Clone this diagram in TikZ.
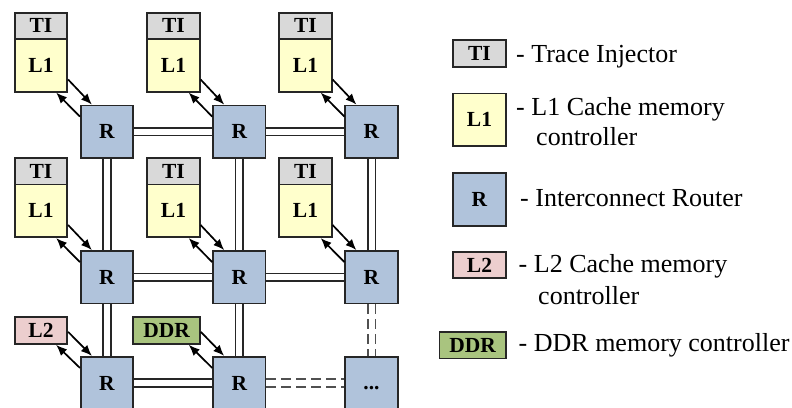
\documentclass[tikz,border=0pt]{standalone}
\usepackage{fontspec}
\setmainfont{Liberation Serif}
\usetikzlibrary{arrows.meta}
\definecolor{tigray}{RGB}{217,217,217}
\definecolor{lonecol}{RGB}{255,255,204}
\definecolor{rcol}{RGB}{176,195,219}
\definecolor{ltwocol}{RGB}{236,206,206}
\definecolor{ddrcol}{RGB}{169,196,127}
\definecolor{edgecol}{RGB}{38,38,38}
\definecolor{dashcol}{RGB}{80,80,80}
\tikzset{
  box/.style={draw=edgecol, line width=1.7pt, inner sep=0pt, font=\bfseries\fontsize{21.5}{25}\selectfont},
  tibox/.style={box, fill=tigray, minimum width=52.5pt, minimum height=26.3pt},
  lonebox/.style={box, fill=lonecol, minimum width=52.5pt, minimum height=52.7pt},
  rbox/.style={box, fill=rcol, minimum width=52.5pt, minimum height=52.5pt},
  ltwobox/.style={box, fill=ltwocol, minimum width=52.5pt, minimum height=27pt},
  ddrbox/.style={box, fill=ddrcol, minimum width=66.7pt, minimum height=27pt},
  arr/.style={line width=1.7pt, draw=black, -{Latex[length=11pt,width=9pt]}},
  dbl/.style={draw=edgecol, line width=1.6pt, double=white, double distance=6pt},
  dbldash/.style={draw=dashcol, line width=1.6pt, double=white, double distance=6pt, dash pattern=on 10pt off 5pt},
  legtext/.style={anchor=base west, inner sep=0pt, font=\fontsize{26}{31}\selectfont}
}
\begin{document}
\begin{tikzpicture}[x=1pt,y=-1pt]
\clip (0,0) rectangle (792,407);
\fill[white] (0,0) rectangle (792,407);
% TI / L1 blocks
\node[tibox] (ti11) at (41,25.8) {TI};
\node[lonebox] (l11) at (41,65.3) {L1};
\node[tibox] (ti12) at (173.5,25.8) {TI};
\node[lonebox] (l12) at (173.5,65.3) {L1};
\node[tibox] (ti13) at (305.5,25.8) {TI};
\node[lonebox] (l13) at (305.5,65.3) {L1};
\node[tibox] (ti21) at (41,171.3) {TI};
\node[lonebox] (l21) at (41,210.8) {L1};
\node[tibox] (ti22) at (173.5,171.3) {TI};
\node[lonebox] (l22) at (173.5,210.8) {L1};
\node[tibox] (ti23) at (305.5,171.3) {TI};
\node[lonebox] (l23) at (305.5,210.8) {L1};
\node[ltwobox] (l31) at (41,330.5) {L2};
\node[ddrbox] (l32) at (166.6,330.5) {DDR};
% routers
\node[rbox] (r11) at (107,131.7) {R};
\node[rbox] (r12) at (239.3,131.7) {R};
\node[rbox] (r13) at (371.5,131.7) {R};
\node[rbox] (r21) at (107,277.2) {R};
\node[rbox] (r22) at (239.3,277.2) {R};
\node[rbox] (r23) at (371.5,277.2) {R};
\node[rbox] (r31) at (107,383) {R};
\node[rbox] (r32) at (239.3,383) {R};
\node[rbox] (r33) at (371.5,383) {\vphantom{R}...};
% links
\draw[dbl] (r11) -- (r12);
\draw[dbl] (r12) -- (r13);
\draw[dbl] (r21) -- (r22);
\draw[dbl] (r22) -- (r23);
\draw[dbl] (r31) -- (r32);
\draw[dbldash] (r32) -- (r33);
\draw[dbl] (r11) -- (r21);
\draw[dbl] (r12) -- (r22);
\draw[dbl] (r13) -- (r23);
\draw[dbl] (r21) -- (r31);
\draw[dbl] (r22) -- (r32);
\draw[dbldash] (r23) -- (r33);
% arrows
\foreach \a/\b in {l11/r11,l12/r12,l13/r13,l21/r21,l22/r22,l23/r23,l31/r31,l32/r32}{
  \draw[arr] ([yshift=13pt]\a.south east) -- ([xshift=12pt]\b.north west);
  \draw[arr] ([yshift=-12pt]\b.north west) -- ([xshift=-12pt]\a.south east);
}
% legend
\node[tibox, minimum width=53.3pt, minimum height=27pt] (kti) at (479.4,53.5) {TI};
\node[lonebox, minimum width=53pt] (kl1) at (479.5,119.7) {L1};
\node[rbox, minimum width=53pt, minimum height=53pt] (kr) at (479.5,199.2) {R};
\node[ltwobox, minimum width=53pt, minimum height=26pt] (kl2) at (479.5,265.3) {L2};
\node[ddrbox, minimum height=26.7pt] (kddr) at (472.7,345) {DDR};
\node[legtext] (tti) at (516,62.3) {- Trace Injector};
\node[legtext] (tl1a) at (516,115) {- L1 Cache memory};
\node[legtext] (tl1b) at (536,145.7) {controller};
\node[legtext] (tr) at (520,206.7) {- Interconnect Router};
\node[legtext] (tl2a) at (518.5,272.7) {- L2 Cache memory};
\node[legtext] (tl2b) at (538,304.3) {controller};
\node[legtext] (tddr) at (518.5,351.7) {- DDR memory controller};
\end{tikzpicture}
\end{document}
